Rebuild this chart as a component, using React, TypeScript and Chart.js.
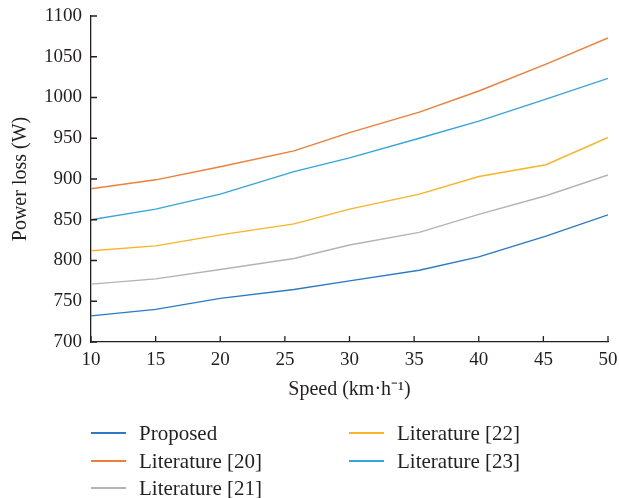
import React, { useEffect, useRef } from "react";
import { Chart, registerables } from "chart.js";

Chart.register(...registerables);

const speeds = [10, 15, 20, 25.7, 30, 35.4, 40, 45.2, 50];
const proposed = [732, 740, 753.5, 764.5, 775, 788, 804.5, 830, 856];
const lit20 = [888, 899, 915, 934.5, 957, 982, 1008, 1041, 1073];
const lit21 = [771, 777.5, 789, 802.5, 819, 834.5, 856.5, 879.5, 905];
const lit22 = [812, 818, 831.5, 845, 863, 881.5, 903, 917.5, 951];
const lit23 = [850, 863, 881.5, 909, 926, 950, 971, 998, 1023.5];
const xTicks = [10, 15, 20, 25, 30, 35, 40, 45, 50];
const yTicks = [700, 750, 800, 850, 900, 950, 1000, 1050, 1100];

const seriesNames = ["Proposed", "Literature [20]", "Literature [21]", "Literature [22]", "Literature [23]"];
const seriesValues = [proposed, lit20, lit21, lit22, lit23];
const seriesColors = ["#2a7ac6", "#ef7f38", "#b3b3b3", "#fbb427", "#36a5de"];

const TEXT = "#231f20";
const FONT = "'Liberation Serif', 'Times New Roman', serif";

const tickMarks = {
  id: "tickMarks",
  afterDraw(chart: any) {
    const { ctx, chartArea } = chart;
    const xs = chart.scales.x;
    const ys = chart.scales.y;
    ctx.save();
    ctx.strokeStyle = TEXT;
    ctx.lineWidth = 1.3;
    ctx.beginPath();
    xs.ticks.forEach((t: any) => {
      const px = xs.getPixelForValue(t.value);
      ctx.moveTo(px, chartArea.bottom);
      ctx.lineTo(px, chartArea.bottom - 6);
    });
    ys.ticks.forEach((t: any) => {
      const py = ys.getPixelForValue(t.value);
      ctx.moveTo(chartArea.left, py);
      ctx.lineTo(chartArea.left + 6, py);
    });
    ctx.stroke();
    ctx.restore();
  },
};

export default function App() {
  const ref = useRef<HTMLCanvasElement | null>(null);
  useEffect(() => {
    document.body.style.margin = "0";
    if (!ref.current) return;
    const chart = new Chart(ref.current, {
      type: "line",
      data: {
        datasets: seriesNames.map((name, i) => ({
          label: name,
          data: speeds.map((s, j) => ({ x: s, y: seriesValues[i][j] })),
          borderColor: seriesColors[i],
          backgroundColor: seriesColors[i],
          borderWidth: 1.4,
          pointRadius: 0,
          tension: 0,
          fill: false,
        })),
      },
      options: {
        animation: false,
        responsive: false,
        layout: { padding: { top: 16, right: 11, left: 0, bottom: 96 } },
        plugins: { legend: { display: false }, tooltip: { enabled: false } },
        scales: {
          x: {
            type: "linear",
            min: 10,
            max: 50,
            afterBuildTicks: (s: any) => {
              s.ticks = xTicks.map((v) => ({ value: v }));
            },
            afterFit: (s: any) => {
              s.height = 60;
              s.paddingLeft = 0;
              s.paddingRight = 0;
            },
            grid: { display: false, drawTicks: false },
            border: { display: true, color: TEXT, width: 1.3 },
            ticks: {
              color: TEXT,
              font: { family: FONT, size: 19 },
              padding: 7,
              maxRotation: 0,
              autoSkip: false,
              callback: (v: any) => String(v),
            },
            title: {
              display: true,
              text: "Speed (km·h⁻¹)",
              color: TEXT,
              font: { family: FONT, size: 20 },
              padding: { top: 0, bottom: 0 },
            },
          },
          y: {
            type: "linear",
            min: 700,
            max: 1100,
            afterBuildTicks: (s: any) => {
              s.ticks = yTicks.map((v) => ({ value: v }));
            },
            afterFit: (s: any) => {
              s.width = 91;
              s.paddingTop = 0;
              s.paddingBottom = 0;
            },
            grid: { display: false, drawTicks: false },
            border: { display: true, color: TEXT, width: 1.3 },
            ticks: {
              color: TEXT,
              font: { family: FONT, size: 19 },
              padding: 9,
              autoSkip: false,
              callback: (v: any) => String(v),
            },
            title: {
              display: true,
              text: "Power loss (W)",
              color: TEXT,
              font: { family: FONT, size: 20 },
              padding: { top: 9, bottom: 0 },
            },
          },
        },
      },
      plugins: [tickMarks],
    });
    return () => chart.destroy();
  }, []);

  const legendPos = [
    { x: 91, y: 433 },
    { x: 91, y: 461 },
    { x: 91, y: 488 },
    { x: 349, y: 433 },
    { x: 349, y: 461 },
  ];

  return (
    <div style={{ position: "relative", width: 619, height: 498, background: "#fff", overflow: "hidden" }}>
      <canvas ref={ref} width={619} height={498} style={{ display: "block", width: 619, height: 498 }} />
      {seriesNames.map((name, i) => (
        <div
          key={name}
          style={{
            position: "absolute",
            left: legendPos[i].x,
            top: legendPos[i].y - 13,
            height: 26,
            display: "flex",
            alignItems: "center",
            fontFamily: FONT,
            fontSize: 21,
            color: TEXT,
            whiteSpace: "nowrap",
          }}
        >
          <div style={{ width: 35, height: 2, background: seriesColors[i], marginRight: 13, flex: "none" }} />
          <span>{name}</span>
        </div>
      ))}
    </div>
  );
}
